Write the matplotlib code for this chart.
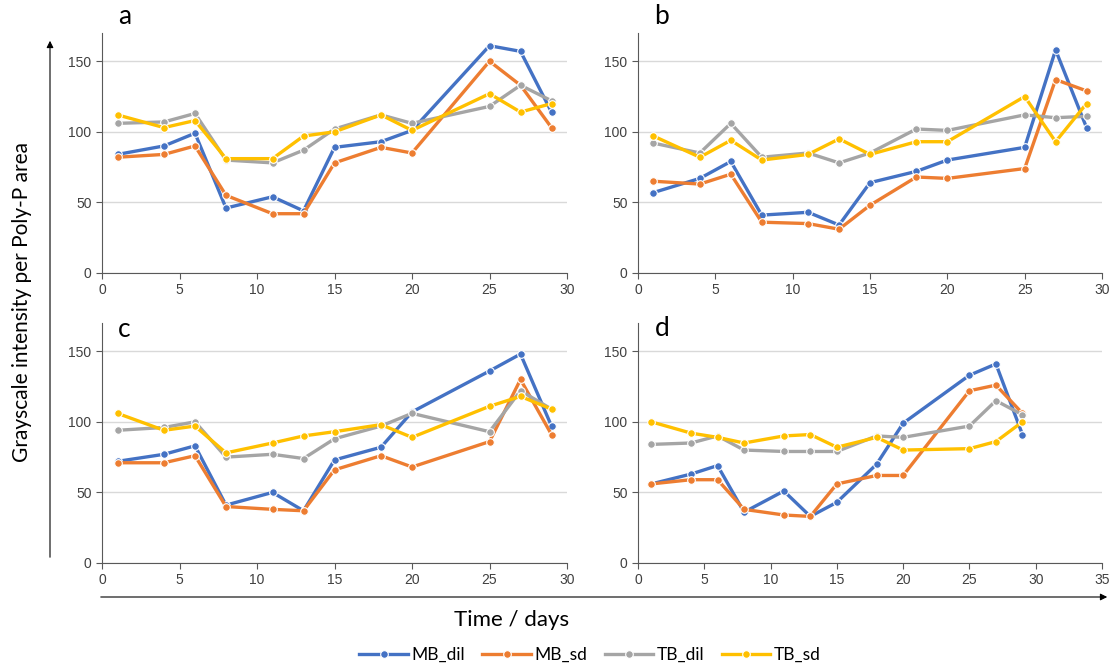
import matplotlib
matplotlib.use("Agg")
import matplotlib.pyplot as plt
from matplotlib.patches import FancyArrowPatch

days = [1, 4, 6, 8, 11, 13, 15, 18, 20, 25, 27, 29]
series = ["MB_dil", "MB_sd", "TB_dil", "TB_sd"]
colors = ["#4472C4", "#ED7D31", "#A5A5A5", "#FFC000"]

# panel a
a_mb_dil = [84, 90, 99, 46, 54, 44, 89, 93, 101, 161, 157, 114]
a_mb_sd = [82, 84, 90, 55, 42, 42, 78, 89, 85, 150, 133, 103]
a_tb_dil = [106, 107, 113, 80, 78, 87, 102, 112, 106, 118, 133, 122]
a_tb_sd = [112, 103, 108, 81, 81, 97, 100, 112, 101, 127, 114, 120]

# panel b
b_mb_dil = [57, 67, 79, 41, 43, 34, 64, 72, 80, 89, 158, 103]
b_mb_sd = [65, 63, 70, 36, 35, 31, 48, 68, 67, 74, 137, 129]
b_tb_dil = [92, 85, 106, 82, 85, 78, 85, 102, 101, 112, 110, 111]
b_tb_sd = [97, 82, 94, 80, 84, 95, 84, 93, 93, 125, 93, 120]

# panel c
c_mb_dil = [72, 77, 83, 41, 50, 37, 73, 82, 107, 136, 148, 97]
c_mb_sd = [71, 71, 76, 40, 38, 37, 66, 76, 68, 86, 130, 91]
c_tb_dil = [94, 96, 100, 75, 77, 74, 88, 97, 106, 93, 122, 109]
c_tb_sd = [106, 94, 97, 78, 85, 90, 93, 98, 89, 111, 118, 109]

# panel d
d_mb_dil = [56, 63, 69, 36, 51, 33, 43, 70, 99, 133, 141, 91]
d_mb_sd = [56, 59, 59, 38, 34, 33, 56, 62, 62, 122, 126, 106]
d_tb_dil = [84, 85, 90, 80, 79, 79, 79, 90, 89, 97, 115, 105]
d_tb_sd = [100, 92, 89, 85, 90, 91, 82, 89, 80, 81, 86, 100]

panels = {
    "a": [a_mb_dil, a_mb_sd, a_tb_dil, a_tb_sd],
    "b": [b_mb_dil, b_mb_sd, b_tb_dil, b_tb_sd],
    "c": [c_mb_dil, c_mb_sd, c_tb_dil, c_tb_sd],
    "d": [d_mb_dil, d_mb_sd, d_tb_dil, d_tb_sd],
}
xmax = {"a": 30, "b": 30, "c": 30, "d": 35}

W, H = 1115, 668
fig = plt.figure(figsize=(W / 100, H / 100), dpi=100)

# axes boxes in pixels: left, top, right, bottom
boxes = {
    "a": (102, 33, 567, 273),
    "b": (638, 33, 1102, 273),
    "c": (102, 323, 567, 563),
    "d": (638, 323, 1102, 563),
}
# panel letter positions (pixels)
letter_pos = {"a": (125, 17), "b": (662, 17), "c": (124, 329), "d": (662, 328)}

for key, (l, t, r, b) in boxes.items():
    ax = fig.add_axes([l / W, 1 - b / H, (r - l) / W, (b - t) / H])
    for vals, name, col in zip(panels[key], series, colors):
        ax.plot(days, vals, color=col, lw=2.4, marker="o", ms=5.5,
                mfc=col, mec="white", mew=0.8, label=name)
    ax.set_xlim(0, xmax[key])
    ax.set_ylim(0, 170)
    ax.set_yticks([0, 50, 100, 150])
    ax.set_xticks(range(0, xmax[key] + 1, 5))
    ax.grid(axis="y", color="#D9D9D9", lw=1)
    ax.set_axisbelow(True)
    for s in ["top", "right"]:
        ax.spines[s].set_visible(False)
    ax.spines["left"].set_color("#595959")
    ax.spines["bottom"].set_color("#595959")
    ax.tick_params(colors="#595959", labelcolor="#404040", labelsize=10,
                   length=4, width=0.8)
    for lab in ax.get_xticklabels() + ax.get_yticklabels():
        lab.set_family("Liberation Sans")
    lx, ly = letter_pos[key]
    fig.text(lx / W, 1 - ly / H, key, fontsize=19, family="Lato",
             ha="center", va="center")
    if key == "a":
        handles, labels = ax.get_legend_handles_labels()

# big arrows
fig.add_artist(FancyArrowPatch(
    (50 / W, 1 - 560 / H), (50 / W, 1 - 38 / H), transform=fig.transFigure,
    arrowstyle="-|>", mutation_scale=10, color="black", lw=0.8))
fig.add_artist(FancyArrowPatch(
    (98 / W, 1 - 597 / H), (1110 / W, 1 - 597 / H), transform=fig.transFigure,
    arrowstyle="-|>", mutation_scale=10, color="black", lw=0.8))

fig.text(22 / W, 1 - 302 / H, "Grayscale intensity per Poly-P area", rotation=90,
         ha="center", va="center", fontsize=15, family="Lato")
fig.text(512 / W, 1 - 620 / H, "Time / days", ha="center", va="center",
         fontsize=16, family="Lato")

fig.legend(handles, labels, loc="center", bbox_to_anchor=(590 / W, 1 - 655 / H),
           ncol=4, frameon=False, handlelength=2.8,
           columnspacing=1.0, handletextpad=0.2,
           prop={"family": "Lato", "size": 12.5})

fig.savefig("out.png", dpi=100)
